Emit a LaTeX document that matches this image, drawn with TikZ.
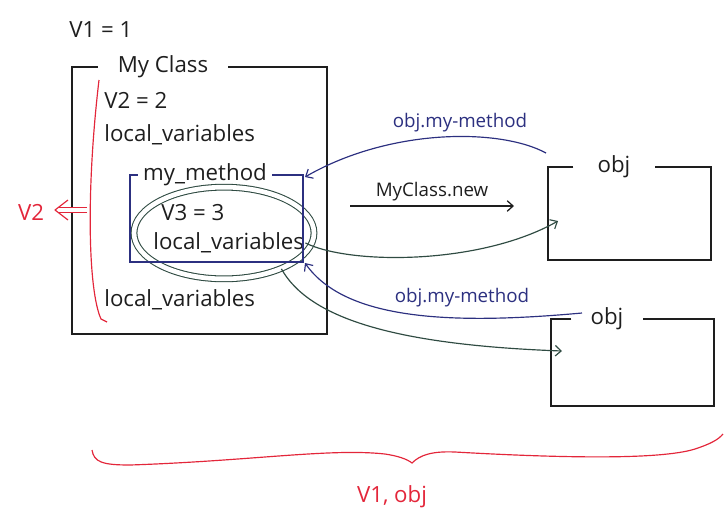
\documentclass[tikz,border=0pt]{standalone}
\usepackage{fontspec}
\setmainfont{Open Sans}
\usepackage{xcolor}
\usepackage{tikz}
\usetikzlibrary{shapes.geometric}
\usetikzlibrary{arrows.meta}

\definecolor{ink}{HTML}{1E1E1E}
\definecolor{pen}{HTML}{E3263A}
\definecolor{navy}{HTML}{2C3080}
\definecolor{moss}{HTML}{2F4B42}

\begin{document}
\begin{tikzpicture}[x=0.03cm,y=-0.03cm,
  txt/.style={inner sep=1pt, font=\fontsize{19}{22}\selectfont, text=ink},
  small/.style={inner sep=1pt, font=\fontsize{16}{19}\selectfont},
  inkline/.style={line width=1.1pt, ink},
  navyline/.style={line width=1pt, navy},
  mossline/.style={line width=1pt, moss},
  redline/.style={line width=1pt, pen},
  tip/.style={-{Straight Barb[length=5pt,width=9pt]}}]

\useasboundingbox (0,0) rectangle (727,518);

%% nodes

\node[shape=ellipse, draw=moss, line width=0.9pt, double, double distance=4pt, minimum width=5.4cm, minimum height=2.75cm] (scp) at (224,233) {};

\node[txt, anchor=west] (vone) at (68,30) {V1 = 1};
\node[txt, inner xsep=0.6cm] (myclass) at (163,67) {My Class};
\node[txt, anchor=west] (vtwoeq) at (103,100) {V2 = 2};
\node[txt, anchor=west] (lvone) at (103,135) {local\_variables};
\node[txt, inner xsep=0.15cm] (mymethod) at (205,175) {my\_method};
\node[txt, anchor=west] (vthree) at (160,213) {V3 = 3};
\node[txt, anchor=west] (lvtwo) at (152,243) {local\_variables};
\node[txt, anchor=west] (lvthree) at (103,300) {local\_variables};

\node[txt, text=pen] (vtwo) at (31,212) {V2};

\node[txt, inner xsep=0.72cm] (obja) at (614,167) {obj};
\node[txt, inner xsep=0.57cm] (objb) at (607,319) {obj};

\node[txt, text=pen] (scopeone) at (392,497) {V1, obj};

%% corners

\coordinate (mmtr) at (305,177);
\coordinate (mmbr) at (305,263);
\coordinate (newfrom) at (350,206);
\coordinate (newto) at (514,206);
\coordinate (calla) at (546,153);
\coordinate (callb) at (582,313);
\coordinate (obja_in) at (558,221);
\coordinate (objb_in) at (562,351);
\coordinate (vtwofrom) at (87,210);
\coordinate (vtwotip) at (55,210);
\coordinate (brtop) at (99,80);
\coordinate (brbot) at (107,322);
\coordinate (brl) at (92,450);
\coordinate (brmid) at (412,463);
\coordinate (brr) at (723,434);

%% frames

\draw[inkline] (myclass.west) -- (72,67) |- (327,334) |- (myclass.east);
\draw[navyline] (mymethod.west) -- (130,175) |- (303,262) |- (mymethod.east);
\draw[inkline] (obja.west) -- (548,167) |- (711,260) |- (obja.east);
\draw[inkline] (objb.west) -- (551,319) |- (714,406) |- (objb.east);

%% red marks

\draw[redline] (brtop) .. controls (86,190) and (88,290) .. (101,319) -- (brbot);
\draw[redline, double, double distance=3pt, shorten >=3pt] (vtwofrom) -- (vtwotip);
\draw[redline, line join=round] ([shift={(13,-10)}]vtwotip) -- (vtwotip) -- ([shift={(13,10)}]vtwotip);
\draw[redline] (brl) .. controls (94,462) and (102,465) .. (130,465)
  .. controls (250,461) and (330,448) .. (385,454) .. controls (398,456) and (407,459) .. (brmid)
  .. controls (420,455) and (432,451) .. (455,452) .. controls (560,458) and (660,460) .. (695,449)
  .. controls (710,444) and (718,440) .. (brr);

%% arrows

\draw[inkline, tip] (newfrom) -- (newto) node[midway, above=3pt, small, text=ink] (newlabel) {MyClass.new};
\draw[navyline, tip] (calla) .. controls (500,128) and (390,128) .. (mmtr);
\node[small, text=navy] (calltop) at (460,123) {obj.my-method};
\draw[mossline, tip] (lvtwo.east) .. controls (350,265) and (480,265) .. (obja_in);
\draw[navyline, tip] (callb) .. controls (450,325) and (345,320) .. (mmbr);
\node[small, text=navy] (callbot) at (462,298) {obj.my-method};
\draw[mossline, tip] (scp.-32) .. controls (310,320) and (400,345) .. (objb_in);

\end{tikzpicture}
\end{document}
